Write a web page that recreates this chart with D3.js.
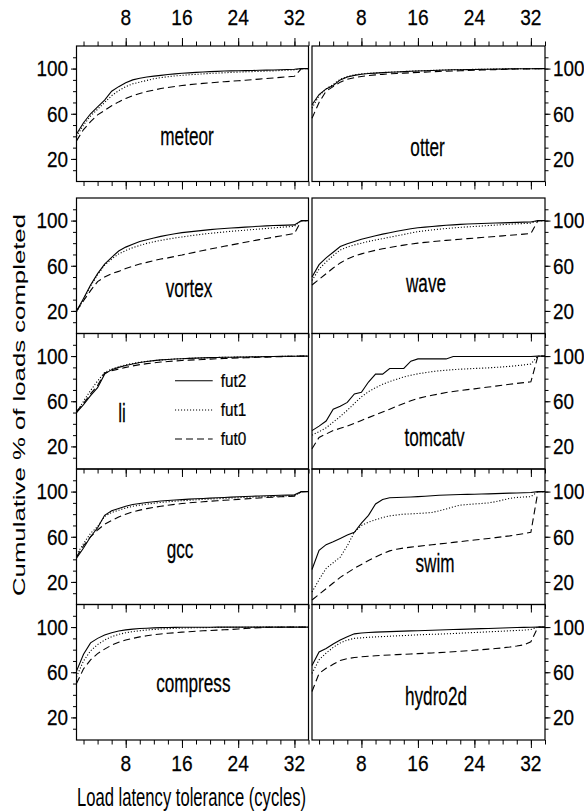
<!DOCTYPE html>
<html><head><meta charset="utf-8">
<script src="https://cdn.jsdelivr.net/npm/d3@7"></script>
<style>body{margin:0;background:#fff}svg{display:block}text{font-family:"Liberation Sans",Arial,Helvetica,sans-serif;fill:#000;stroke:#000;stroke-width:0.25px}</style>
</head><body>
<svg id="chart" width="584" height="811"></svg>
<script>
// ---------- data ----------
const cycles = d3.range(1, 35); // load latency tolerance 1..34
const xTickMajor = [8, 16, 24, 32];
const xTickMinor = d3.range(2, 35, 2);
const yTickMajor = [20, 60, 100];
const yTickMinor = d3.range(10, 120, 10);
const seriesNames = ["fut2", "fut1", "fut0"];
const benchmarks = ["meteor", "otter", "vortex", "wave", "li", "tomcatv", "gcc", "swim", "compress", "hydro2d"];

const meteorFut2 = [42,52,60,66,72,80,84,87.5,90,91.5,92.5,93.3,94,94.7,95.3,95.8,96.2,96.6,97,97.3,97.5,97.8,98,98.1,98.2,98.3,98.5,98.6,98.8,99,99.2,99.4,100,100];
const meteorFut1 = [40,50,58,64,70,76,80.5,84,86.5,88,89.5,91,92,92.8,93.5,94,94.5,94.9,95.3,95.7,96,96.3,96.6,96.9,97.1,97.3,97.5,97.8,98,98.3,98.6,98.9,100,100];
const meteorFut0 = [36,46,53,59,63,67,70.5,73.5,76,78,79.7,81,82.3,83.3,84.2,85,85.7,86.3,86.9,87.4,87.9,88.4,88.8,89.2,89.7,90.2,90.7,91.2,91.7,92.2,92.7,93.2,100,100];

const otterFut2 = [68,77,82,85,90,92.5,94,95,95.6,96,96.4,96.7,97,97.3,97.6,97.9,98.1,98.3,98.5,98.7,98.9,99,99.1,99.2,99.3,99.4,99.5,99.6,99.7,99.8,99.9,99.9,100,100];
const otterFut1 = [65,76,82,86,90.5,93,94.5,95.3,95.8,96.2,96.5,96.8,97.1,97.4,97.7,98,98.2,98.4,98.6,98.8,99,99.1,99.2,99.3,99.4,99.5,99.6,99.7,99.8,99.85,99.9,99.95,100,100];
const otterFut0 = [56,70,80,84,88,90.5,92,93,93.8,94.4,94.9,95.3,95.7,96,96.3,96.6,96.9,97.2,97.5,97.7,97.9,98.1,98.3,98.5,98.7,98.9,99.1,99.3,99.5,99.6,99.7,99.8,100,100];

const vortexFut2 = [20,31,43,53,61.5,67.5,73,76.5,79,81.5,83,84.5,86,87.3,88.3,89.3,90,90.7,91.3,92,92.5,93,93.4,93.8,94.2,94.6,95,95.3,95.6,95.8,96,96.2,100,100];
const vortexFut1 = [19,30,42,52,60.5,66,70.5,73.5,76,78,79.8,81.2,82.5,83.6,84.6,85.5,86.4,87.2,88,88.7,89.3,89.9,90.5,91,91.5,92,92.5,93,93.5,94,94.5,95,100,100];
const vortexFut0 = [20,29,38,46,50,53,55,57.5,59.5,61.5,63,64.5,66,67,68.3,69.5,70.9,72.2,73.5,74.8,76,77.2,78.4,79.6,80.8,82,83.1,84.2,85.3,86.4,87.5,88.6,100,100];

const waveFut2 = [50,61,67,72,77,79.5,81.5,83.5,85,86.5,88,89.3,90.5,91.6,92.7,93.6,94.2,94.8,95.3,95.8,96.2,96.6,97,97.2,97.4,97.6,97.8,98,98.2,98.4,98.6,98.8,100,100];
const waveFut1 = [47,57,63.5,69,74,76.5,78.5,80,81.5,82.8,84,85.3,86.5,87.7,89,90.2,91,91.7,92.4,93,93.5,94,94.4,94.8,95.2,95.6,96,96.4,96.8,97.1,97.4,97.7,100,100];
const waveFut0 = [43,48,53,58,62.5,66,68.5,70.5,72.2,73.7,75,76.2,77.3,78.3,79.2,80,80.7,81.3,81.9,82.5,83,83.5,84,84.5,85,85.5,86,86.5,87,87.5,88,88.5,100,100];

const liFut2 = [50,57,65,72,84,88,90,91.7,93,94.3,95.2,96,96.6,97,97.4,97.7,98,98.2,98.4,98.6,98.8,98.9,99,99.1,99.2,99.3,99.4,99.5,99.6,99.7,99.8,99.9,100,100];
const liFut1 = [50,60,69.5,78,85.5,88.5,90.5,92.3,93.5,94.5,95.3,96,96.5,97,97.4,97.7,98,98.2,98.4,98.6,98.8,98.9,99,99.1,99.2,99.3,99.4,99.5,99.6,99.7,99.8,99.9,100,100];
const liFut0 = [51,58,66.5,74,85,87,88.5,90,91.3,92.4,93.3,94,94.7,95.2,95.7,96.1,96.4,96.7,97,97.3,97.6,97.9,98.1,98.3,98.5,98.7,98.9,99.1,99.3,99.5,99.7,99.8,100,100];

const tomcatvFut2 = [34,38,42.5,53,55.5,59,66.5,68,77,84,84,89,89,89,95.5,97.5,97.5,97.5,97.5,97.5,99.6,99.6,99.6,99.6,99.6,99.6,99.6,99.6,99.6,99.6,99.6,99.6,100,100];
const tomcatvFut1 = [30,33,36.5,41.5,46.5,52,58,64,68.5,72,75,77.5,79.5,81.5,83,84.3,85.3,86.2,87,87.5,88,88.4,88.7,89,89.3,89.6,90,90.4,90.9,91.5,92.2,93,100,100];
const tomcatvFut0 = [18,28,31,34,36,38,40.5,43,45.5,48,50.5,53,55.5,58,60.5,62.5,64,65.3,66.5,67.7,68.7,69.5,70.3,71,71.8,72.6,73.4,74.2,75,75.8,76.5,77.2,100,100];

const gccFut2 = [41,50,60,68,79,83,85,87,88.5,89.5,90.3,91,91.6,92.1,92.5,92.9,93.3,93.6,93.9,94.2,94.5,94.8,95.1,95.4,95.7,95.9,96.1,96.3,96.5,96.7,96.9,97.1,100,100];
const gccFut1 = [44,54,63,69,78,81.5,83.5,85.5,87,88,88.9,89.7,90.4,91,91.5,91.9,92.3,92.7,93.1,93.4,93.7,94,94.3,94.6,94.9,95.1,95.3,95.5,95.7,95.9,96.1,96.3,100,100];
const gccFut0 = [42,52,60,66,71,74.5,77.5,80,82,83.6,84.9,86,87,87.9,88.7,89.4,90,90.5,91,91.5,91.9,92.3,92.7,93.1,93.5,93.9,94.3,94.7,95.1,95.4,95.7,96,100,100];

const swimFut2 = [31,48,53,55.5,58.5,61.5,64,72,79,89,93,94.5,94.8,95,95.2,95.5,95.9,96.3,96.7,97,97.2,97.4,97.5,97.6,97.8,98,98.2,98.4,98.6,98.8,99,99.2,100,100];
const swimFut1 = [11,22,32,37,42,52,64,70,73,75,77,78.5,79.3,80,80.3,80.6,81,81.5,83,84.5,86.5,88,88.5,89,89.5,90,91,92.5,94,94.8,95.2,95.5,100,100];
const swimFut0 = [4,9,14,19,24,28,32,35.5,39,42,45,47.5,49,50,50.8,51.5,52.2,52.9,53.6,54.3,55,55.7,56.4,57.1,57.8,58.5,59.2,60,60.8,61.8,62.8,64,100,100];

const compressFut2 = [61,76,86,90,93,95,96.5,97.5,98.2,98.7,99,99.3,99.5,99.6,99.7,99.8,99.8,99.9,99.9,99.9,100,100,100,100,100,100,100,100,100,100,100,100,100,100];
const compressFut1 = [56,70,79,84.5,88.5,91.5,93.5,95,96,96.8,97.4,97.9,98.3,98.6,98.9,99.1,99.3,99.4,99.5,99.6,99.7,99.8,99.8,99.9,99.9,99.9,100,100,100,100,100,100,100,100];
const compressFut0 = [50,63,71,76.5,80.5,84,86.5,88.5,90,91.3,92.3,93.2,93.9,94.5,95,95.5,95.9,96.3,96.7,97,97.3,97.6,97.9,98.3,98.7,99.1,99.5,99.7,99.8,99.9,100,100,100,100];

const hydro2dFut2 = [66,78,81,85,88.5,91.5,94,94.8,95.2,95.5,95.8,96,96.2,96.4,96.6,96.8,97,97.2,97.4,97.6,97.8,98,98.2,98.4,98.6,98.8,99,99.2,99.4,99.6,99.7,99.8,100,100];
const hydro2dFut1 = [59,71,77,82,86,88.5,90,90.5,91,91.3,91.6,91.9,92.2,92.5,92.8,93.1,93.4,93.6,93.8,94,94.3,94.6,94.9,95.2,95.5,95.8,96.1,96.4,96.7,97,97.3,97.8,100,100];
const hydro2dFut0 = [43,59,63.5,67,70.5,72,73,73.7,74.2,74.6,75,75.3,75.6,75.9,76.2,76.5,76.8,77.1,77.4,77.8,78.2,78.6,79,79.5,80,80.5,81,81.6,82.3,83.2,84.3,87,100,100];

const seriesData = {
  meteor: [meteorFut2, meteorFut1, meteorFut0],
  otter: [otterFut2, otterFut1, otterFut0],
  vortex: [vortexFut2, vortexFut1, vortexFut0],
  wave: [waveFut2, waveFut1, waveFut0],
  li: [liFut2, liFut1, liFut0],
  tomcatv: [tomcatvFut2, tomcatvFut1, tomcatvFut0],
  gcc: [gccFut2, gccFut1, gccFut0],
  swim: [swimFut2, swimFut1, swimFut0],
  compress: [compressFut2, compressFut1, compressFut0],
  hydro2d: [hydro2dFut2, hydro2dFut1, hydro2dFut0]
};

// ---------- layout ----------
const colX = [[76.5, 308.5], [312, 545]];
const rowTop = [46, 198, 333.5, 469, 604.5];
const rowH = 135.5;
// label placement relative to panel (left, top)
const labelPos = {
  meteor: [110.5, 99], otter: [115.5, 110], vortex: [112.5, 98.7], wave: [114, 94.3],
  li: [45.5, 88.2], tomcatv: [122.5, 112.5], gcc: [103.5, 89.3], swim: [123, 102.7],
  compress: [116.8, 87.2], hydro2d: [124, 100.5]
};
const dashes = ["none", "1.1,1.9", "7,4"];

const svg = d3.select("#chart");
svg.append("rect").attr("width", 584).attr("height", 811).attr("fill", "#fff").attr("stroke", "none");

function label(g, x, y, s, size, sx, anchor) {
  return g.append("text")
    .attr("transform", `translate(${x},${y}) scale(${sx},1)`)
    .attr("text-anchor", anchor)
    .style("font-size", size + "px")
    .text(s);
}
function styleAxis(sel) {
  sel.select(".domain").remove();
  sel.selectAll(".tick line").attr("stroke", "#000").attr("stroke-width", 1);
  sel.selectAll(".tick text").remove();
}

benchmarks.forEach((name, i) => {
  const col = i % 2, row = Math.floor(i / 2);
  const [x0, x1] = colX[col];
  const top = rowTop[row], bottom = top + rowH;
  const x = d3.scaleLinear().domain([1, 34]).range([x0, x1]);
  const y = d3.scaleLinear().domain([0, 120]).range([bottom, top]);
  const g = svg.append("g");

  // y axis
  const yAx = col === 0 ? d3.axisLeft : d3.axisRight;
  const yX = col === 0 ? x0 : x1;
  g.append("g").attr("transform", `translate(${yX},0)`)
    .call(yAx(y).tickValues(yTickMinor).tickSize(3.5).tickFormat("")).call(styleAxis);
  g.append("g").attr("transform", `translate(${yX},0)`)
    .call(yAx(y).tickValues(yTickMajor).tickSize(5.5).tickFormat("")).call(styleAxis);
  yTickMajor.forEach(v => {
    if (col === 0) label(g, 68, y(v) + 7.8, v, 22, 0.86, "end");
    else label(g, 553, y(v) + 7.8, v, 22, 0.86, "start");
  });

  // x axis bottom
  g.append("g").attr("transform", `translate(0,${bottom})`)
    .call(d3.axisBottom(x).tickValues(xTickMinor).tickSize(4.5).tickFormat("")).call(styleAxis);
  g.append("g").attr("transform", `translate(0,${bottom})`)
    .call(d3.axisBottom(x).tickValues(xTickMajor).tickSize(8).tickFormat("")).call(styleAxis);
  if (row === 0) {
    g.append("g").attr("transform", `translate(0,${top})`)
      .call(d3.axisTop(x).tickValues(xTickMinor).tickSize(4.5).tickFormat("")).call(styleAxis);
    g.append("g").attr("transform", `translate(0,${top})`)
      .call(d3.axisTop(x).tickValues(xTickMajor).tickSize(8).tickFormat("")).call(styleAxis);
    xTickMajor.forEach(v => label(g, x(v), 25, v, 22, 0.87, "middle"));
  }
  if (row === 4) {
    xTickMajor.forEach(v => label(g, x(v), 770.5, v, 22, 0.87, "middle"));
  }

  // lines
  const line = d3.line().x((d, k) => x(cycles[k])).y(d => y(d));
  seriesData[name].forEach((vals, s) => {
    g.append("path").datum(vals).attr("d", line)
      .attr("fill", "none").attr("stroke", "#000").attr("stroke-width", 1.1)
      .attr("stroke-dasharray", dashes[s]);
  });

  // frame
  g.append("rect").attr("x", x0).attr("y", top).attr("width", x1 - x0).attr("height", rowH)
    .attr("fill", "none").attr("stroke", "#000").attr("stroke-width", 1.2);

  // benchmark label
  const lp = labelPos[name];
  label(g, x0 + lp[0], top + lp[1], name, 26, 0.66, "middle");

  // legend in li panel
  if (name === "li") {
    const ly = [47.2, 76.5, 105.5];
    seriesNames.forEach((sn, s) => {
      g.append("line").attr("x1", x0 + 98.5).attr("x2", x0 + 136.2)
        .attr("y1", top + ly[s]).attr("y2", top + ly[s])
        .attr("stroke", "#000").attr("stroke-width", 1.1).attr("stroke-dasharray", dashes[s]);
      label(g, x0 + 144.3, top + ly[s] + 6.3, sn, 18, 0.85, "start");
    });
  }
});

// axis titles
svg.append("text")
  .attr("transform", "translate(25,405) rotate(-90)")
  .attr("text-anchor", "middle")
  .attr("textLength", 382).attr("lengthAdjust", "spacingAndGlyphs")
  .style("font-size", "16px").style("stroke-width", "0px")
  .text("Cumulative % of loads completed");
svg.append("text")
  .attr("x", 77).attr("y", 805.5)
  .attr("textLength", 229).attr("lengthAdjust", "spacingAndGlyphs")
  .style("font-size", "25px").style("stroke-width", "0px")
  .text("Load latency tolerance (cycles)");
</script>
</body></html>
